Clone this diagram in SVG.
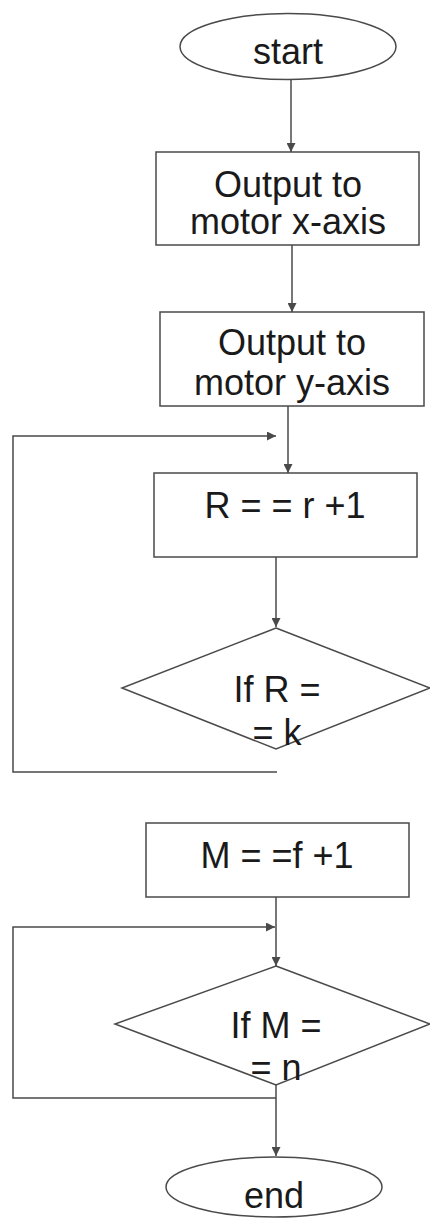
<svg xmlns="http://www.w3.org/2000/svg" width="430" height="1220" viewBox="0 0 430 1220">
  <defs>
    <style>
      .shape { fill: #ffffff; stroke: #4a4a4a; stroke-width: 1.5; }
      .conn { fill: none; stroke: #4a4a4a; stroke-width: 1.5; }
      .label { font-family: "Liberation Sans", Arial, sans-serif; font-size: 36px; fill: #1a1a1a; text-anchor: middle; }
    </style>
    <marker id="arrow" viewBox="0 0 10 10" refX="10" refY="5" markerWidth="9" markerHeight="9" markerUnits="userSpaceOnUse" orient="auto">
      <path d="M0,0 L10,5 L0,10 Z" fill="#4a4a4a"/>
    </marker>
  </defs>
  <rect width="430" height="1220" fill="#ffffff"/>

  <!-- connectors -->
  <g id="connectors">
    <line class="conn" x1="291" y1="80" x2="291" y2="152" marker-end="url(#arrow)"/>
    <line class="conn" x1="292" y1="245" x2="292" y2="312" marker-end="url(#arrow)"/>
    <line class="conn" x1="288" y1="406" x2="288" y2="473" marker-end="url(#arrow)"/>
    <line class="conn" x1="276" y1="557" x2="276" y2="627" marker-end="url(#arrow)"/>
    <polyline class="conn" points="277,772 13,772 13,436 276,436" marker-end="url(#arrow)"/>
    <line class="conn" x1="276" y1="897" x2="276" y2="966" marker-end="url(#arrow)"/>
    <polyline class="conn" points="276,1098 13,1098 13,927 275,927" marker-end="url(#arrow)"/>
    <line class="conn" x1="276" y1="1085" x2="276" y2="1156" marker-end="url(#arrow)"/>
  </g>

  <!-- start terminal -->
  <g id="start">
    <ellipse class="shape" cx="288" cy="46.5" rx="108" ry="33"/>
    <text class="label" x="288" y="64">start</text>
  </g>

  <!-- motor x-axis output -->
  <g id="out-x">
    <rect class="shape" x="156" y="152" width="263" height="93"/>
    <text class="label" x="288" y="197">Output to</text>
    <text class="label" x="288" y="234">motor x-axis</text>
  </g>

  <!-- motor y-axis output -->
  <g id="out-y">
    <rect class="shape" x="160" y="312" width="264" height="94"/>
    <text class="label" x="292" y="355">Output to</text>
    <text class="label" x="292" y="395">motor y-axis</text>
  </g>

  <!-- R counter -->
  <g id="inc-r">
    <rect class="shape" x="154" y="473" width="263" height="84"/>
    <text class="label" x="285" y="518">R = = r +1</text>
  </g>

  <!-- R check -->
  <g id="check-r">
    <polygon class="shape" points="276,628 430,688 276,749 122,688"/>
    <text class="label" x="277" y="702">If R =</text>
    <text class="label" x="277" y="745">= k</text>
  </g>

  <!-- M counter -->
  <g id="inc-m">
    <rect class="shape" x="146" y="823" width="263" height="74"/>
    <text class="label" x="277" y="868">M = =f +1</text>
  </g>

  <!-- M check -->
  <g id="check-m">
    <polygon class="shape" points="276,966 430,1024 276,1085 115,1024"/>
    <text class="label" x="276" y="1038">If M =</text>
    <text class="label" x="276" y="1080">= n</text>
  </g>

  <!-- end terminal -->
  <g id="end">
    <ellipse class="shape" cx="274" cy="1187" rx="108" ry="30"/>
    <text class="label" x="274" y="1208">end</text>
  </g>
</svg>
